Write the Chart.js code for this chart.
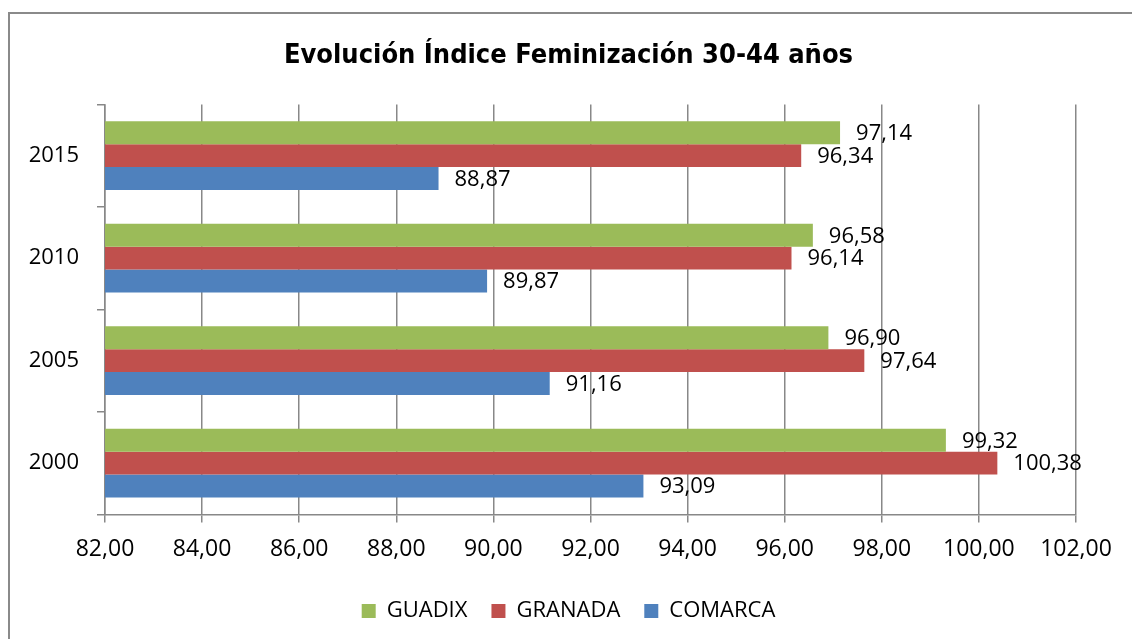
<!DOCTYPE html>
<html>
<head>
<meta charset="utf-8">
<script src="https://cdn.jsdelivr.net/npm/chart.js@4/dist/chart.umd.min.js"></script>
<style>
  html, body { margin: 0; padding: 0; background: #fff; overflow: hidden; }
  #frame {
    position: absolute; left: 8px; top: 12px;
    width: 1200px; height: 700px;
    border: 2px solid #8a8a8a;
  }
  #chart { position: absolute; left: 0; top: 0; }
</style>
</head>
<body>
<div id="frame"></div>
<canvas id="chart" width="1132" height="639"></canvas>
<script>
// years, top to bottom as in the picture
const years = ['2015', '2010', '2005', '2000']
const guadix = [97.14, 96.58, 96.90, 99.32]
const granada = [96.34, 96.14, 97.64, 100.38]
const comarca = [88.87, 89.87, 91.16, 93.09]
const xTicks = [82, 84, 86, 88, 90, 92, 94, 96, 98, 100, 102]

const gridGray = '#888888'
const fmt = (v) => v.toFixed(2).replace('.', ',')

// writes the value to the right of every bar
const barValues = {
  id: 'barValues',
  afterDatasetsDraw (chart) {
    const ctx = chart.ctx
    ctx.save()
    ctx.font = "22px 'Open Sans', sans-serif"
    ctx.fillStyle = '#000'
    ctx.textAlign = 'left'
    ctx.textBaseline = 'middle'
    chart.data.datasets.forEach((ds, i) => {
      chart.getDatasetMeta(i).data.forEach((bar, j) => {
        ctx.fillText(fmt(ds.data[j]), bar.x + 16, bar.y + 1)
      })
    })
    ctx.restore()
  }
}

new Chart(document.getElementById('chart'), {
  type: 'bar',
  data: {
    labels: years,
    datasets: [
      { label: 'GUADIX', data: guadix, backgroundColor: '#9BBB59' },
      { label: 'GRANADA', data: granada, backgroundColor: '#C0504D' },
      { label: 'COMARCA', data: comarca, backgroundColor: '#4F81BD' }
    ]
  },
  options: {
    indexAxis: 'y',
    responsive: false,
    animation: false,
    categoryPercentage: 0.67,
    barPercentage: 1,
    layout: { padding: { left: 8, right: 3, top: 0, bottom: 7 } },
    scales: {
      x: {
        min: 82,
        max: 102,
        afterBuildTicks: (scale) => { scale.ticks = xTicks.map((v) => ({ value: v })) },
        // keep the plot's right edge where the reference has it
        afterFit: (scale) => { scale.paddingRight = 56 },
        ticks: {
          callback: (v) => fmt(v),
          color: '#000',
          font: { family: "'Open Sans', sans-serif", size: 23 },
          padding: 13,
          maxRotation: 0
        },
        grid: { color: gridGray, lineWidth: 1.5, tickLength: 8 },
        border: { color: gridGray, width: 1.5 }
      },
      y: {
        afterFit: (scale) => { scale.width = 97 },
        ticks: { color: '#000', font: { family: "'Open Sans', sans-serif", size: 22 }, padding: 18 },
        grid: { drawOnChartArea: false, color: gridGray, lineWidth: 1.5, tickLength: 8 },
        border: { color: gridGray, width: 1.5 }
      }
    },
    plugins: {
      title: {
        display: true,
        text: 'Evolución Índice Feminización 30-44 años',
        color: '#000',
        font: { family: "'Liberation Sans Narrow', 'DejaVu Sans Condensed', sans-serif", size: 27, weight: 'bold' },
        padding: { top: 40, bottom: 32 }
      },
      legend: {
        position: 'bottom',
        labels: {
          color: '#000',
          font: { family: "'Open Sans', sans-serif", size: 22 },
          boxWidth: 14,
          boxHeight: 14,
          padding: 24
        }
      },
      tooltip: { enabled: false }
    }
  },
  plugins: [barValues]
})
</script>
</body>
</html>
